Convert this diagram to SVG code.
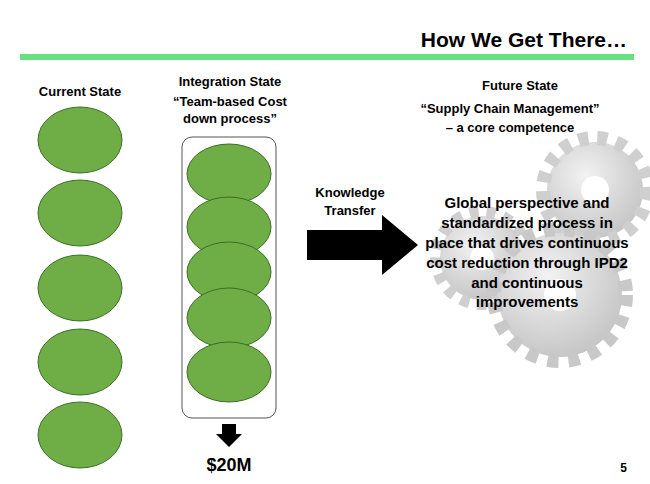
<svg xmlns="http://www.w3.org/2000/svg" width="650" height="484" viewBox="0 0 650 484">
<defs>
<radialGradient id="g" cx="40%" cy="35%" r="70%"><stop offset="0" stop-color="#f2f2f2"/><stop offset="1" stop-color="#c4c4c4"/></radialGradient>
</defs>
<style>
.h{font-family:"Liberation Sans",Arial,sans-serif;font-size:13px;font-weight:bold;fill:#000;text-anchor:middle}
.e{fill:#6fae47;stroke:#3c6e26;stroke-width:1}
.b{font-family:"Liberation Sans",Arial,sans-serif;font-size:15px;font-weight:bold;fill:#000;text-anchor:middle}
</style>
<rect width="650" height="484" fill="#fff"/>
<text x="627" y="47" font-family="Liberation Sans,Arial,sans-serif" font-size="21" font-weight="bold" text-anchor="end">How We Get There…</text>
<rect x="20" y="54" width="614" height="6" fill="#66e080"/>
<g id="gears">
<g transform="translate(595,190)"><circle r="48" fill="url(#g)"/><circle r="52" fill="none" stroke="#cfcfcf" stroke-width="14" stroke-dasharray="10 9"/><circle r="14" fill="#fff"/></g>
<g transform="translate(482,258)"><circle r="42" fill="url(#g)"/><circle r="46" fill="none" stroke="#cfcfcf" stroke-width="12" stroke-dasharray="9 8"/><circle r="12" fill="#fff"/></g>
<g transform="translate(560,295)"><circle r="62" fill="url(#g)"/><circle r="66" fill="none" stroke="#c8c8c8" stroke-width="14" stroke-dasharray="11 10"/><circle r="16" fill="#fff"/></g>
</g>
<g id="current">
<text class="h" x="80" y="96">Current State</text>
<ellipse class="e" cx="80" cy="140" rx="42" ry="33"/>
<ellipse class="e" cx="80" cy="213" rx="42" ry="33"/>
<ellipse class="e" cx="80" cy="288" rx="42" ry="33"/>
<ellipse class="e" cx="80" cy="362" rx="42" ry="33"/>
<ellipse class="e" cx="80" cy="435" rx="42" ry="33"/>
</g>
<g id="integration">
<text class="h" x="230" y="86">Integration State</text>
<text class="h" x="230" y="106">“Team-based Cost</text>
<text class="h" x="230" y="123">down process”</text>
<rect x="182" y="137" width="94" height="281" rx="10" fill="#fff" stroke="#555"/>
<ellipse class="e" cx="229" cy="174" rx="42" ry="30"/>
<ellipse class="e" cx="229" cy="227" rx="42" ry="30"/>
<ellipse class="e" cx="229" cy="272" rx="42" ry="30"/>
<ellipse class="e" cx="229" cy="318" rx="42" ry="30"/>
<ellipse class="e" cx="229" cy="372" rx="42" ry="30"/>
<polygon points="222,424 236,424 236,434 242,434 229,447 216,434 222,434" fill="#000"/>
<text x="229" y="471" font-family="Liberation Sans,Arial,sans-serif" font-size="18" font-weight="bold" text-anchor="middle">$20M</text>
</g>
<g id="connectors">
<polygon points="307,230 382,230 382,215 418,245 382,275 382,260 307,260" fill="#000"/>
<text class="h" x="350" y="197">Knowledge</text>
<text class="h" x="350" y="215">Transfer</text>
</g>
<g id="future">
<text class="h" x="520" y="90">Future State</text>
<text class="h" x="510" y="113">“Supply Chain Management”</text>
<text class="h" x="510" y="132">– a core competence</text>
<text class="b" x="527" y="208">Global perspective and</text>
<text class="b" x="527" y="228">standardized process in</text>
<text class="b" x="527" y="248">place that drives continuous</text>
<text class="b" x="527" y="268">cost reduction through IPD2</text>
<text class="b" x="527" y="288">and continuous</text>
<text class="b" x="527" y="307">improvements</text>
</g>
<text x="627" y="472" font-family="Liberation Sans,Arial,sans-serif" font-size="12" font-weight="bold" text-anchor="end">5</text>
</svg>
